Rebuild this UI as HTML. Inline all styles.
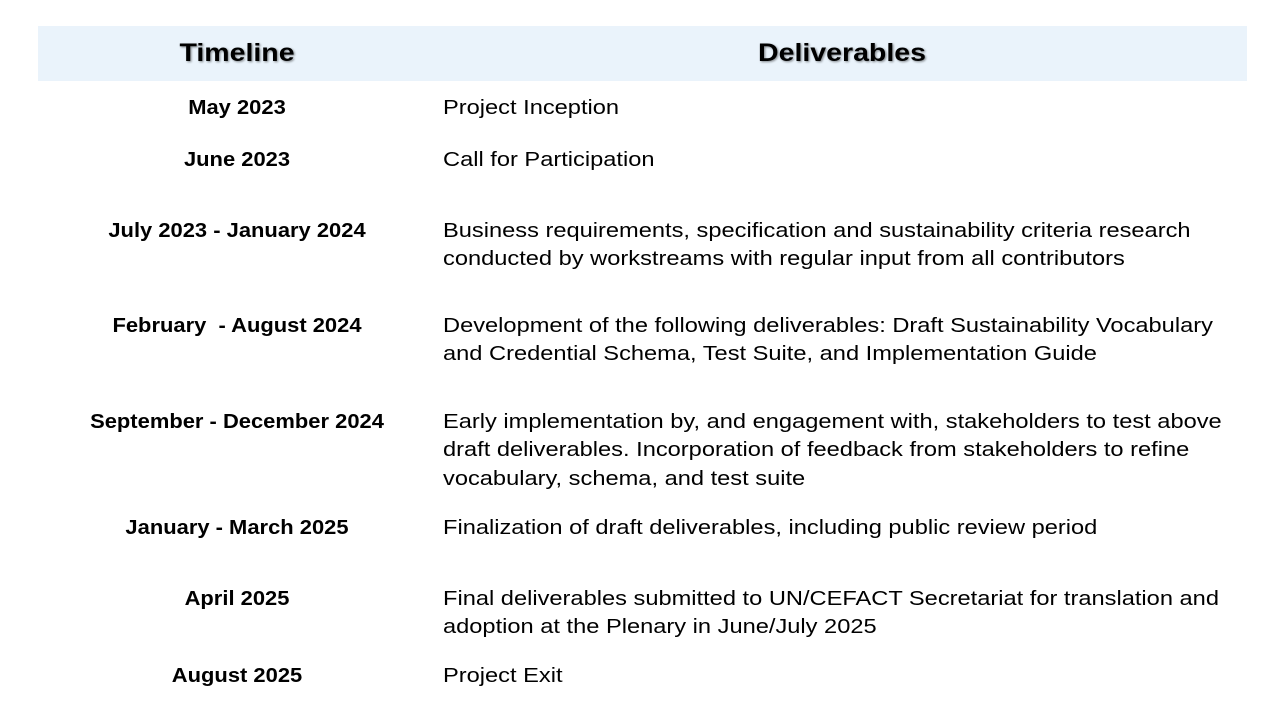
<!DOCTYPE html>
<html><head><meta charset="utf-8">
<style>
html,body{margin:0;padding:0;background:#fff;}
#page{position:relative;width:1280px;height:720px;overflow:hidden;font-family:"Liberation Sans",sans-serif;color:#000;}
.hdr{position:absolute;left:38px;top:26px;width:1209px;height:55px;background:#EAF3FB;}
.h{position:absolute;top:39px;font-size:25px;font-weight:bold;text-shadow:1px 1px 2px rgba(0,0,0,0.45);transform:translateX(-50%) scaleX(1.14);white-space:nowrap;}
.t{position:absolute;font-size:20.5px;font-weight:bold;transform:translate(-50%,-50%) scaleX(1.07);white-space:nowrap;left:237px;margin-top:1px;}
.d{position:absolute;left:443px;font-size:20.5px;white-space:nowrap;transform:translateY(-50%) scaleX(1.153);transform-origin:0 50%;margin-top:1px;}
</style></head>
<body>
<div id="page">
<div class="hdr"></div>
<div class="h" style="left:237px">Timeline</div>
<div class="h" style="left:842px">Deliverables</div>

<div class="t" style="top:107px">May 2023</div>
<div class="d" style="top:107px">Project Inception</div>

<div class="t" style="top:159px">June 2023</div>
<div class="d" style="top:159px">Call for Participation</div>

<div class="t" style="top:230px">July 2023 - January 2024</div>
<div class="d" style="top:230px">Business requirements, specification and sustainability criteria research</div>
<div class="d" style="top:258px">conducted by workstreams with regular input from all contributors</div>

<div class="t" style="top:325px">February&nbsp; - August 2024</div>
<div class="d" style="top:325px">Development of the following deliverables: Draft Sustainability Vocabulary</div>
<div class="d" style="top:353px">and Credential Schema, Test Suite, and Implementation Guide</div>

<div class="t" style="top:421px">September - December 2024</div>
<div class="d" style="top:421px">Early implementation by, and engagement with, stakeholders to test above</div>
<div class="d" style="top:449px">draft deliverables. Incorporation of feedback from stakeholders to refine</div>
<div class="d" style="top:478px">vocabulary, schema, and test suite</div>

<div class="t" style="top:527px">January - March 2025</div>
<div class="d" style="top:527px">Finalization of draft deliverables, including public review period</div>

<div class="t" style="top:598px">April 2025</div>
<div class="d" style="top:598px">Final deliverables submitted to UN/CEFACT Secretariat for translation and</div>
<div class="d" style="top:626px">adoption at the Plenary in June/July 2025</div>

<div class="t" style="top:675px">August 2025</div>
<div class="d" style="top:675px">Project Exit</div>
</div>
</body></html>
